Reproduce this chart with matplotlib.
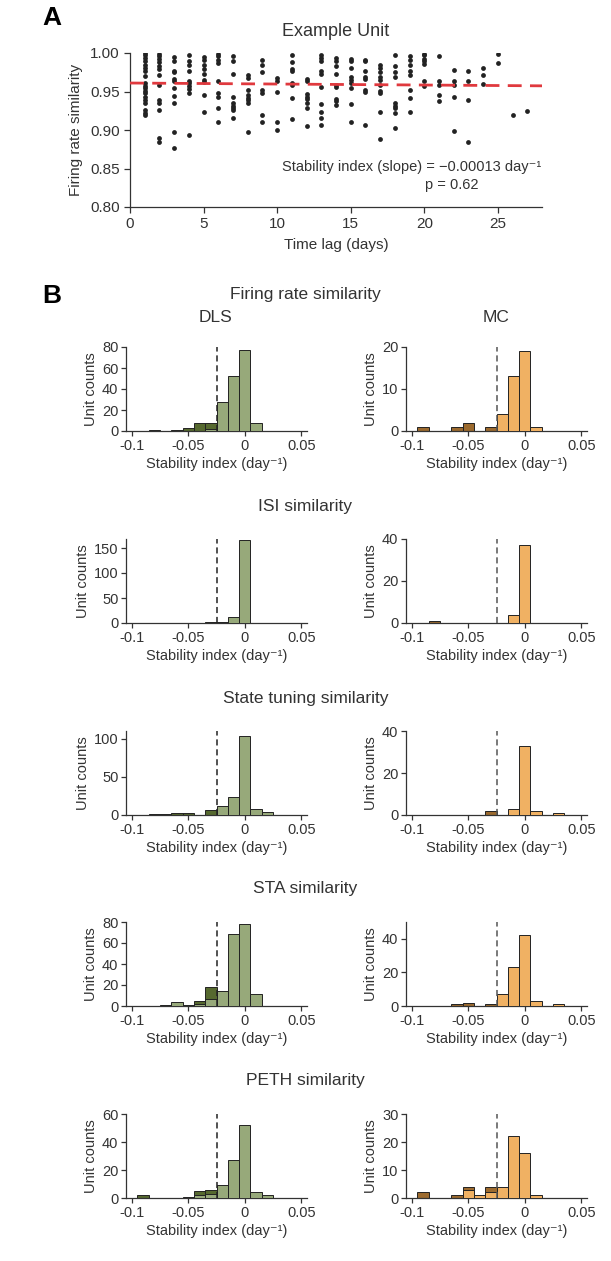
import numpy as np
import matplotlib
matplotlib.use("Agg")
import matplotlib.pyplot as plt

plt.rcParams['font.family'] = ['Liberation Sans', 'DejaVu Sans']
plt.rcParams['text.color'] = '#333333'
plt.rcParams['axes.labelcolor'] = '#333333'
plt.rcParams['xtick.color'] = '#333333'
plt.rcParams['ytick.color'] = '#333333'

# ---- panel A: example unit ----
lags = {
    1: [1.0, 0.997, 0.994, 0.990, 0.985, 0.980, 0.976, 0.970, 0.961, 0.957, 0.954, 0.951, 0.948, 0.943, 0.939, 0.935, 0.926, 0.922, 0.920],
    2: [0.999, 0.996, 0.992, 0.988, 0.983, 0.979, 0.972, 0.959, 0.939, 0.935, 0.926, 0.889, 0.885],
    3: [0.995, 0.989, 0.977, 0.975, 0.966, 0.963, 0.954, 0.944, 0.935, 0.898, 0.876],
    4: [0.997, 0.990, 0.985, 0.977, 0.964, 0.961, 0.957, 0.953, 0.948, 0.894],
    5: [0.995, 0.991, 0.985, 0.979, 0.973, 0.965, 0.962, 0.946, 0.924],
    6: [0.999, 0.996, 0.991, 0.987, 0.963, 0.948, 0.943, 0.929, 0.911],
    7: [0.996, 0.989, 0.973, 0.943, 0.935, 0.931, 0.928, 0.926, 0.916],
    8: [0.972, 0.967, 0.952, 0.946, 0.941, 0.939, 0.935, 0.897],
    9: [0.991, 0.985, 0.975, 0.952, 0.948, 0.920, 0.910],
    10: [0.967, 0.964, 0.950, 0.910, 0.900],
    11: [0.997, 0.988, 0.979, 0.976, 0.961, 0.959, 0.942, 0.914],
    12: [0.966, 0.963, 0.947, 0.943, 0.940, 0.935, 0.928, 0.905],
    13: [0.997, 0.993, 0.990, 0.976, 0.973, 0.956, 0.934, 0.924, 0.915, 0.906],
    14: [0.993, 0.989, 0.983, 0.973, 0.959, 0.956, 0.940, 0.938, 0.933],
    15: [0.992, 0.989, 0.980, 0.969, 0.965, 0.961, 0.954, 0.934, 0.910],
    16: [0.991, 0.989, 0.976, 0.969, 0.966, 0.952, 0.950, 0.907],
    17: [0.985, 0.980, 0.975, 0.969, 0.965, 0.959, 0.951, 0.948, 0.923, 0.888],
    18: [0.997, 0.983, 0.975, 0.969, 0.935, 0.931, 0.928, 0.922, 0.902],
    19: [0.996, 0.991, 0.985, 0.977, 0.972, 0.952, 0.942, 0.924],
    20: [0.999, 0.997, 0.992, 0.989, 0.986, 0.964, 0.957],
    21: [0.996, 0.963, 0.959, 0.946, 0.938],
    22: [0.978, 0.963, 0.959, 0.943, 0.899],
    23: [0.977, 0.964, 0.939, 0.885],
    24: [0.980, 0.972, 0.960],
    25: [0.999, 0.987],
    26: [0.920],
    27: [0.925],
}
fit_intercept = 0.961
fit_slope = -0.00013

# ---- panel B: histograms (bins centred at -0.10 ... 0.05) ----
bin_centers = [-0.10, -0.09, -0.08, -0.07, -0.06, -0.05, -0.04, -0.03,
               -0.02, -0.01, 0.0, 0.01, 0.02, 0.03, 0.04, 0.05]

fr_dls_dark = [0, 0, 1, 0, 1, 3, 8, 8, 0, 0, 0, 0, 0, 0, 0, 0]
fr_dls_light = [0, 0, 0, 0, 0, 0, 0, 2, 28, 52, 77, 8, 0, 0, 0, 0]
fr_mc_dark = [0, 1, 0, 0, 1, 2, 0, 1, 0, 0, 0, 0, 0, 0, 0, 0]
fr_mc_light = [0, 0, 0, 0, 0, 0, 0, 0, 4, 13, 19, 1, 0, 0, 0, 0]

isi_dls_dark = [0, 0, 0, 0, 0, 1, 0, 2, 0, 0, 0, 0, 0, 0, 0, 0]
isi_dls_light = [0, 0, 0, 1, 0, 0, 0, 0, 2, 13, 166, 0, 0, 0, 0, 0]
isi_mc_dark = [0, 0, 1, 0, 0, 0, 0, 0, 0, 0, 0, 0, 0, 0, 0, 0]
isi_mc_light = [0, 0, 0, 0, 0, 0, 0, 0, 0, 4, 37, 0, 0, 0, 0, 0]

state_dls_dark = [0, 0, 1, 1, 2, 2, 0, 6, 0, 0, 0, 0, 0, 0, 0, 0]
state_dls_light = [0, 0, 0, 0, 0, 0, 0, 0, 12, 24, 104, 8, 4, 0, 0, 0]
state_mc_dark = [0, 0, 0, 0, 0, 0, 0, 2, 0, 0, 0, 0, 0, 0, 0, 0]
state_mc_light = [0, 0, 0, 0, 0, 0, 0, 0, 0, 3, 33, 2, 0, 1, 0, 0]

sta_dls_dark = [0, 0, 0, 0, 0, 0, 5, 18, 0, 0, 0, 0, 0, 0, 0, 0]
sta_dls_light = [0, 0, 0, 1, 4, 1, 2, 7, 14, 69, 78, 11, 0, 0, 0, 0]
sta_mc_dark = [0, 0, 0, 0, 1, 2, 0, 1, 0, 0, 0, 0, 0, 0, 0, 0]
sta_mc_light = [0, 0, 0, 0, 0, 0, 0, 0, 7, 23, 42, 3, 0, 1, 0, 0]

peth_dls_dark = [0, 2, 0, 0, 0, 0, 5, 6, 0, 0, 0, 0, 0, 0, 0, 0]
peth_dls_light = [0, 0, 0, 0, 0, 1, 2, 3, 9, 27, 52, 4, 2, 0, 0, 0]
peth_mc_dark = [0, 2, 0, 0, 1, 4, 0, 4, 0, 0, 0, 0, 0, 0, 0, 0]
peth_mc_light = [0, 0, 0, 0, 0, 3, 1, 2, 4, 22, 16, 1, 0, 0, 0, 0]

rows = [
    ("Firing rate similarity", fr_dls_dark, fr_dls_light, fr_mc_dark, fr_mc_light, [0, 20, 40, 60, 80], 80, [0, 10, 20], 20),
    ("ISI similarity", isi_dls_dark, isi_dls_light, isi_mc_dark, isi_mc_light, [0, 50, 100, 150], 168, [0, 20, 40], 40),
    ("State tuning similarity", state_dls_dark, state_dls_light, state_mc_dark, state_mc_light, [0, 50, 100], 110, [0, 20, 40], 40),
    ("STA similarity", sta_dls_dark, sta_dls_light, sta_mc_dark, sta_mc_light, [0, 20, 40, 60, 80], 80, [0, 20, 40], 50),
    ("PETH similarity", peth_dls_dark, peth_dls_light, peth_mc_dark, peth_mc_light, [0, 20, 40, 60], 60, [0, 10, 20, 30], 30),
]

threshold = -0.025
dls_dark_c, dls_light_c = '#56692f', '#97a97a'
mc_dark_c, mc_light_c = '#9c6a2e', '#f0b163'

W, H = 611, 1261
fig = plt.figure(figsize=(W / 100, H / 100), dpi=100)


def fx(px):
    return px / W


def fy(py):
    return 1 - py / H


# panel A
axA = fig.add_axes([fx(130), fy(207), fx(542) - fx(130), fy(53) - fy(207)])
for lag, vals in lags.items():
    axA.scatter([lag] * len(vals), vals, s=12, color='#222222', linewidths=0, zorder=3)
xl = np.array([0, 28])
axA.plot(xl, fit_intercept + fit_slope * xl, color='#e0393e', lw=2, dashes=(5, 3), zorder=4)
axA.set_xlim(0, 28)
axA.set_ylim(0.80, 1.00)
axA.set_xticks([0, 5, 10, 15, 20, 25])
axA.set_yticks([0.80, 0.85, 0.90, 0.95, 1.00])
axA.set_yticklabels(['0.80', '0.85', '0.90', '0.95', '1.00'])
axA.tick_params(labelsize=11, length=4, width=0.9, direction='out')
for s in ['top', 'right']:
    axA.spines[s].set_visible(False)
for s in ['left', 'bottom']:
    axA.spines[s].set_color('#333333')
    axA.spines[s].set_linewidth(0.9)
axA.set_xlabel('Time lag (days)', fontsize=11, labelpad=5)
axA.set_ylabel('Firing rate similarity', fontsize=11, labelpad=5)
axA.set_title('Example Unit', fontsize=13, pad=12)
axA.text(0.997, 0.26, 'Stability index (slope) = \u22120.00013 day\u207b\u00b9', transform=axA.transAxes,
         ha='right', va='center', fontsize=10.5)
axA.text(0.78, 0.14, 'p = 0.62', transform=axA.transAxes, ha='center', va='center', fontsize=10.5)
fig.text(fx(42), fy(18), 'A', fontsize=19, fontweight='bold', color='black', va='center')
fig.text(fx(42), fy(296), 'B', fontsize=19, fontweight='bold', color='black', va='center')

# panel B
bottoms = [431, 623, 815, 1006, 1198]
ax_h = 84
col_left = [126, 406]
ax_w = 181


def draw_hist(ax, dark, light, dark_c, light_c, yticks, ytop, line_c):
    d = np.array(dark)
    l = np.array(light)
    c = np.array(bin_centers)
    ax.bar(c[d > 0], d[d > 0], width=0.01, color=dark_c, edgecolor='#222222', linewidth=0.7, zorder=2)
    ax.bar(c[l > 0], l[l > 0], width=0.01, color=light_c, edgecolor='#222222', linewidth=0.7, zorder=3)
    ax.plot([threshold, threshold], [0, ytop], color=line_c, lw=1.1, dashes=(4, 2.5), zorder=4)
    ax.set_xlim(-0.105, 0.055)
    ax.set_ylim(0, ytop)
    ax.set_xticks([-0.1, -0.05, 0, 0.05])
    ax.set_xticklabels(['-0.1', '-0.05', '0', '0.05'])
    ax.set_yticks(yticks)
    ax.tick_params(labelsize=10.5, length=3.5, width=0.9, direction='out', pad=2)
    for s in ['top', 'right']:
        ax.spines[s].set_visible(False)
    for s in ['left', 'bottom']:
        ax.spines[s].set_color('#333333')
        ax.spines[s].set_linewidth(0.9)
    ax.set_xlabel('Stability index (day\u207b\u00b9)', fontsize=10.5, labelpad=3)
    ax.set_ylabel('Unit counts', fontsize=10.5, labelpad=3)


for i, (title, dd, dl, md, ml, yt_d, top_d, yt_m, top_m) in enumerate(rows):
    b = bottoms[i]
    ax1 = fig.add_axes([fx(col_left[0]), fy(b), fx(ax_w), ax_h / H])
    ax2 = fig.add_axes([fx(col_left[1]), fy(b), fx(ax_w), ax_h / H])
    draw_hist(ax1, dd, dl, dls_dark_c, dls_light_c, yt_d, top_d, '#222222')
    draw_hist(ax2, md, ml, mc_dark_c, mc_light_c, yt_m, top_m, '#555555')
    top = b - ax_h
    if i == 0:
        fig.text(0.5, fy(top - 53), title, ha='center', va='center', fontsize=12.5)
        fig.text(fx(216), fy(top - 30), 'DLS', ha='center', va='center', fontsize=12.5)
        fig.text(fx(496), fy(top - 30), 'MC', ha='center', va='center', fontsize=12.5)
    else:
        fig.text(0.5, fy(top - 33), title, ha='center', va='center', fontsize=12.5)

fig.savefig('out.png', dpi=100)
